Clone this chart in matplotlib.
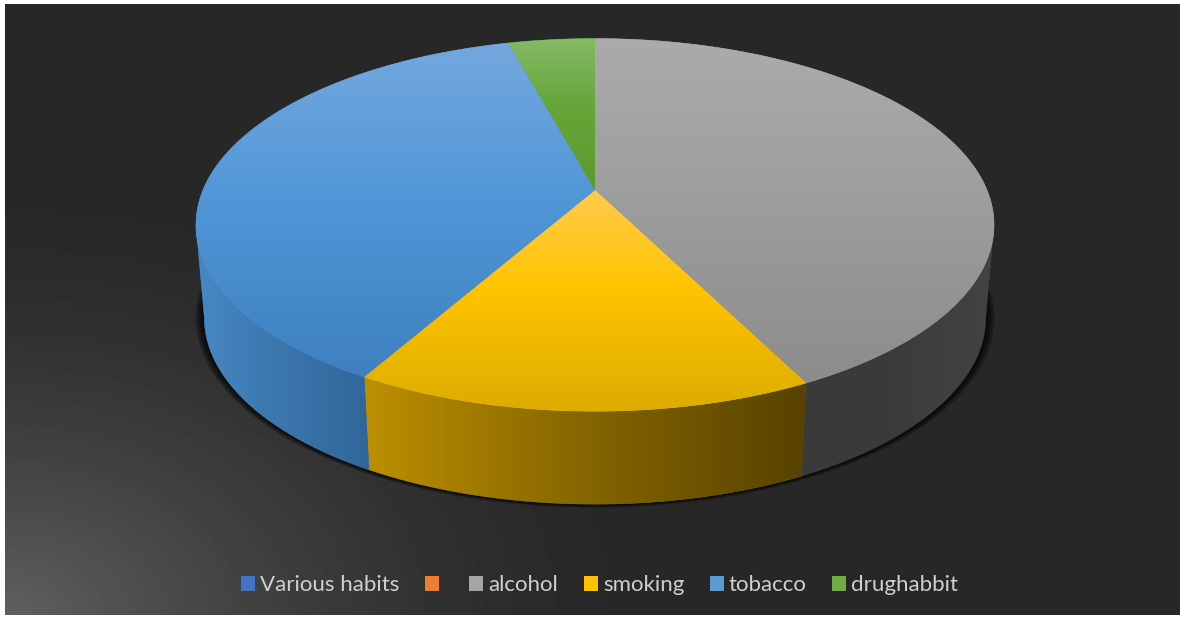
#!/usr/bin/env python3
"""Habit shares as a tilted 3D pie on a dark backdrop, saved to out.png."""
import matplotlib

matplotlib.use("Agg")
import matplotlib.pyplot as plt
import numpy as np
from matplotlib.colors import to_rgb
from matplotlib.patches import Patch, Polygon

categories = ["Various habits", "", "alcohol", "smoking", "tobacco", "drughabbit"]
values = [0.0, 0.0, 42.6, 15.6, 37.6, 4.2]
swatch_colors = ["#4472c4", "#ed7d31", "#a5a5a5", "#ffc000", "#5b9bd5", "#70ad47"]

# vertical shading of each slice's top face, light to dark
top_shades = {
    "alcohol": ["#ababab", "#9e9e9e", "#8c8c8c"],
    "smoking": ["#ffcb4d", "#ffc400", "#dcac00"],
    "tobacco": ["#74a8de", "#5297d8", "#3e80c0"],
    "drughabbit": ["#84ba66", "#66a638", "#5c9a30"],
}
# horizontal shading of the visible rim, left to right
side_shades = {
    "alcohol": ["#3a3a3a", "#3b3b3b", "#434343"],
    "smoking": ["#bd9000", "#8a6900", "#574200"],
    "tobacco": ["#4788c4", "#3c77ae", "#30679a"],
}

W, H = 1183, 617
CX, CY = 595, 190          # apex on screen
AX_X, AX_Y, KP = 392, 179.8, 0.187   # perspective projection of the unit disc
DEPTH, TAPER = 93, 0.021   # rim height and narrowing of the lower edge
RIM_LO, RIM_HI = 100.8, 259.2   # rim is visible between these bearings


def project(theta, depth=0.0):
    """Bearing in degrees (clockwise from 12 o'clock) to pixel position."""
    t = np.radians(theta)
    x, y = np.sin(t), np.cos(t)
    w = 1 + KP * y
    return CX + AX_X * x / w * (1 - TAPER * depth), CY - AX_Y * y / w + DEPTH * depth


def gradient_fill(ax, pts, shades, vertical, zorder):
    """Paint a polygon with a three-stop gradient along y or x."""
    pts = np.asarray(pts)
    x0, y0 = pts.min(axis=0)
    x1, y1 = pts.max(axis=0)
    rgb = np.array([to_rgb(c) for c in shades])
    s = np.linspace(0, 1, 256)
    ramp = np.stack([np.interp(s, [0, 0.45, 1], rgb[:, i]) for i in range(3)], axis=-1)
    img = ramp[:, None, :] if vertical else ramp[None, :, :]
    # flat underlay closes the hairline seams between neighbouring slices
    ax.add_patch(Polygon(pts, closed=True, fc=shades[1], ec=shades[1], lw=0.35, zorder=zorder))
    poly = Polygon(pts, closed=True, transform=ax.transData, fc="none", ec="none")
    ax.add_patch(poly)
    im = ax.imshow(img, extent=(x0, x1, y1, y0), aspect="auto", origin="upper",
                   interpolation="bilinear", zorder=zorder + 0.5)
    im.set_clip_path(poly)


fig = plt.figure(figsize=(W / 100, H / 100), dpi=100, facecolor="white")
ax = fig.add_axes([0, 0, 1, 1])

# dark panel, lighter towards the lower left corner
xx, yy = np.meshgrid(np.arange(5, 1180), np.arange(4, 615))
dist = np.hypot(xx - 5, (yy - 615) * 1.5) / 650
glow = np.clip(1 - dist, 0, 1) ** 1.6
ax.imshow((0x27 + (0x60 - 0x27) * glow) / 255, cmap="gray", vmin=0, vmax=1,
          extent=(5, 1180, 615, 4), aspect="auto", zorder=0)

# soft shadow hugging the lower edge
ring = np.linspace(0, 360, 361)
bx, by = project(ring, 1.0)
for grow in np.linspace(9, 0, 8):
    sx = CX + (bx - CX) * (1 + grow / 390)
    sy = by.mean() + (by - by.mean()) * (1 + grow / 520)
    ax.fill(sx, sy, color="black", alpha=0.17, lw=0, zorder=1)

start = 0.0
for name, val in zip(categories, values):
    if val <= 0:
        continue
    stop = start + val * 3.6
    lo, hi = max(start, RIM_LO), min(stop, RIM_HI)
    if hi > lo:
        th = np.linspace(lo, hi, 120)
        upper = np.column_stack(project(th, 0.0))
        lower = np.column_stack(project(th[::-1], 1.0))
        gradient_fill(ax, np.vstack([upper, lower]), side_shades[name], False, 2)
    start = stop

start = 0.0
for name, val in zip(categories, values):
    if val <= 0:
        continue
    stop = start + val * 3.6
    th = np.linspace(start, stop, 240)
    face = np.vstack([[[CX, CY]], np.column_stack(project(th))])
    gradient_fill(ax, face, top_shades[name], True, 3)
    start = stop

handles = [Patch(fc=c, ec="none", label=n) for n, c in zip(categories, swatch_colors)]
leg = ax.legend(handles=handles, loc="center", bbox_to_anchor=(599.5 / W, 1 - 585 / H),
                ncol=6, frameon=False, handlelength=0.63, handleheight=0.66,
                handletextpad=0.23, columnspacing=1.15, borderpad=0, borderaxespad=0,
                prop={"family": "Lato", "size": 16}, labelcolor="#d0d0d0")

ax.set_xlim(0, W)
ax.set_ylim(H, 0)
ax.axis("off")
fig.savefig("out.png", dpi=100, facecolor="white")
